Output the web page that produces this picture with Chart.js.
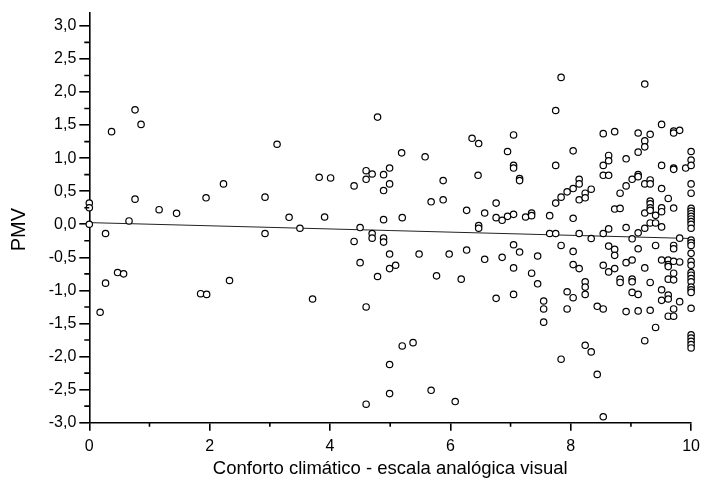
<!DOCTYPE html>
<html>
<head>
<meta charset="utf-8">
<script src="https://cdn.jsdelivr.net/npm/chart.js@4.4.1/dist/chart.umd.min.js"></script>
<style>
  html, body { margin: 0; padding: 0; background: #fff; }
  #wrap { width: 706px; height: 491px; position: relative; }
</style>
</head>
<body>
<div id="wrap"><canvas id="c" width="706" height="491"></canvas></div>
<script>
// Conforto climático (escala analógica visual, 0–10) vs PMV
const CONFORTO = [
  0, 0, 0, 0.18, 0.27, 0.27, 0.37, 0.47, 0.57, 0.66, 0.76, 0.76, 0.86,
  1.16, 1.45, 1.85, 1.95, 1.94, 2.23, 2.33, 2.92, 2.92, 3.12, 3.32, 3.50,
  3.71, 3.82, 3.91, 4.01, 4.40, 4.40, 4.50, 4.50, 4.60, 4.60, 4.60, 4.60,
  4.70, 4.70, 4.70, 4.79, 4.79, 4.89, 4.89, 4.89, 4.89, 4.89,
  4.99, 4.99, 4.99, 4.99, 4.99, 4.99, 5.09, 5.19, 5.20, 5.20, 5.38, 5.48,
  5.58, 5.68, 5.68, 5.77, 5.88, 5.88, 5.98, 6.08, 6.18, 6.27, 6.27, 6.36,
  6.46, 6.47, 6.47, 6.47, 6.57, 6.57, 6.76, 6.76, 6.76, 6.86, 6.86, 6.95, 6.95,
  7.05, 7.05, 7.05, 7.05, 7.05, 7.05, 7.05,
  7.15, 7.15, 7.15,
  7.25, 7.35, 7.35, 7.35,
  7.45, 7.45,
  7.55, 7.55, 7.55,
  7.65, 7.65,
  7.75, 7.75, 7.75, 7.75,
  7.84, 7.84, 7.84, 7.84,
  7.94, 7.94, 7.94,
  8.04, 8.04, 8.04, 8.04, 8.04, 8.04,
  8.14, 8.14, 8.14, 8.14, 8.14,
  8.24, 8.24, 8.24, 8.24, 8.24, 8.24,
  8.34, 8.34, 8.34,
  8.44, 8.44,
  8.54, 8.54, 8.54, 8.54, 8.54, 8.54, 8.54,
  8.63, 8.63, 8.63, 8.63, 8.63, 8.63,
  8.73, 8.73, 8.73, 8.73, 8.73,
  8.82, 8.82, 8.82, 8.82,
  8.92, 8.92, 8.92, 8.92, 8.92,
  9.02, 9.02, 9.02, 9.02, 9.02, 9.02,
  9.12, 9.12, 9.12, 9.12, 9.12, 9.12, 9.12, 9.12,
  9.23, 9.23, 9.23, 9.23, 9.23, 9.23, 9.23, 9.23,
  9.32, 9.32, 9.32, 9.32, 9.32, 9.32, 9.32, 9.32, 9.32, 9.32,
  9.41, 9.41, 9.41, 9.41,
  9.51, 9.51, 9.51, 9.51, 9.51, 9.51, 9.51, 9.51, 9.51,
  9.62, 9.62, 9.62, 9.62, 9.62, 9.62, 9.62, 9.62,
  9.71, 9.71, 9.71, 9.71, 9.71, 9.71, 9.71, 9.71, 9.71, 9.71, 9.71, 9.71,
  9.81, 9.81, 9.81, 9.81,
  9.91,
  10, 10, 10, 10, 10, 10, 10, 10, 10, 10, 10, 10, 10, 10, 10, 10,
  10, 10, 10, 10, 10, 10, 10, 10, 10, 10, 10, 10, 10, 10, 10, 10
];

const PMV = [
  0.32, 0.25, 0.00, -1.33, -0.14, -0.89, 1.40, -0.73, -0.75, 0.05, 1.73, 0.38, 1.51,
  0.22, 0.165, -1.05, -1.06, 0.40, 0.61, -0.85, 0.41, -0.14, 1.21, 0.105, -0.06,
  -1.13, 0.71, 0.11, 0.70, 0.58, -0.26, -0.05, -0.58, 0.81, 0.68, -1.25, -2.72,
  0.76, -0.14, -0.21, 1.62, -0.79, 0.75, 0.51, 0.07, -0.21, -0.27,
  0.85, 0.61, -0.45, -0.67, -2.12, -2.56, -0.62, 1.08, 0.10, -1.84, -1.79, -0.45,
  1.02, 0.34, -2.51, -0.78, 0.66, 0.37, -0.45, -2.68, -0.83, 0.21, -0.39, 1.30,
  0.74, 1.22, -0.02, -0.06, 0.17, -0.53, 0.32, 0.10, -1.12, 0.06, -0.50, 1.10, 0.12,
  1.35, 0.89, 0.85, 0.15, -0.31, -0.66, -1.06,
  0.69, 0.66, -0.42,
  0.11, 0.17, 0.13, -0.74,
  -0.48, -0.90,
  -1.16, -1.28, -1.48,
  0.13, -0.14,
  1.72, 0.89, 0.32, -0.14,
  2.22, 0.41, -0.32, -2.04,
  0.49, -1.02, -1.28,
  1.11, 0.54, 0.09, -0.41, -0.61, -1.11,
  0.68, 0.61, 0.37, -0.14, -0.67,
  0.47, 0.40, -0.87, -0.95, -1.06, -1.83,
  0.53, -0.215, -1.93,
  -1.24, -2.27,
  1.37, 0.89, 0.74, -0.14, -0.62, -1.28, -2.91,
  1.04, 0.96, 0.74, -0.07, -0.33, -0.72,
  1.40, 0.23, -0.38, -0.47, -0.67,
  0.47, 0.24, -0.83, -0.88,
  0.99, 0.58, -0.05, -0.58, -1.32,
  0.68, -0.22, -0.54, -0.83, -0.87, -1.03,
  1.38, 1.09, 0.75, 0.72, -0.13, -0.37, -1.06, -1.31,
  2.12, 1.26, 1.17, 0.61, 0.17, -0.06, -0.66, -1.76,
  1.36, 0.67, 0.61, 0.35, 0.31, 0.25, 0.21, 0.02, -0.88, -1.30,
  0.135, 0.02, -0.32, -1.56,
  1.51, 0.89, 0.54, 0.25, 0.19, -0.04, -0.54, -0.99, -1.15,
  0.39, -0.54, -0.61, -0.64, -0.83, -1.07, -1.13, -1.39,
  1.41, 1.38, 0.85, 0.83, 0.245, -0.32, -0.37, -0.56, -0.74, -0.84, -1.28, -1.39,
  1.42, -0.21, -0.57, -1.17,
  0.85,
  1.10, 0.97, 0.89, 0.61, 0.47, 0.24, 0.20, 0.16, 0.12, 0.08, 0.04, 0.00, -0.06, -0.24, -0.28, -0.32,
  -0.44, -0.56, -0.62, -0.73, -0.77, -0.82, -0.87, -0.95, -0.99, -1.03, -1.27, -1.67, -1.72, -1.77, -1.82, -1.87
];

// Fitted trend line, value at each end of the scale
const TREND_X = [0, 10];
const TREND_Y = [0.025, -0.215];

// Axis ranges and tick steps
const X_RANGE = [0, 10];
const Y_RANGE = [-3, 3.2];
const X_STEP = 2;
const Y_STEP = 0.5;
const Y_LABEL_TOP = 3;

const X_TITLE = 'Conforto climático - escala analógica visual';
const Y_TITLE = 'PMV';

const points = CONFORTO.map((x, i) => ({ x: x, y: PMV[i] }));
const trend = TREND_X.map((x, i) => ({ x: x, y: TREND_Y[i] }));

const FONT = "'Liberation Sans', Arial, sans-serif";

// Short minor ticks halfway between the labelled ones
const minorTicks = {
  id: 'minorTicks',
  afterDraw(chart) {
    const ctx = chart.ctx;
    const xs = chart.scales.x, ys = chart.scales.y;
    ctx.save();
    ctx.strokeStyle = '#000';
    ctx.lineWidth = 1.6;
    ctx.beginPath();
    for (let v = X_RANGE[0] + X_STEP / 2; v < X_RANGE[1]; v += X_STEP) {
      const px = xs.getPixelForValue(v);
      ctx.moveTo(px, xs.top);
      ctx.lineTo(px, xs.top + 4);
    }
    for (let v = Y_RANGE[0] + Y_STEP / 2; v < Y_LABEL_TOP; v += Y_STEP) {
      const py = ys.getPixelForValue(v);
      ctx.moveTo(ys.right, py);
      ctx.lineTo(ys.right - 5, py);
    }
    ctx.stroke();
    ctx.restore();
  }
};

// Vertical axis title, set a little below the middle of the axis
const yTitle = {
  id: 'yTitle',
  afterDraw(chart) {
    const ctx = chart.ctx;
    const ys = chart.scales.y;
    const cy = (ys.top + ys.bottom) / 2 + 12;
    ctx.save();
    ctx.translate(19, cy);
    ctx.rotate(-Math.PI / 2);
    ctx.font = '20px ' + FONT;
    ctx.fillStyle = '#000';
    ctx.textAlign = 'center';
    ctx.textBaseline = 'middle';
    ctx.fillText(Y_TITLE, 0, 0);
    ctx.restore();
  }
};

new Chart(document.getElementById('c'), {
  type: 'scatter',
  data: {
    datasets: [
      {
        type: 'line',
        data: trend,
        borderColor: '#222',
        borderWidth: 1,
        pointRadius: 0,
        fill: false,
        clip: false,
        order: 2
      },
      {
        data: points,
        pointRadius: 3.2,
        pointHoverRadius: 3.2,
        borderWidth: 1.2,
        borderColor: '#000',
        backgroundColor: '#fff',
        clip: false,
        order: 1
      }
    ]
  },
  options: {
    responsive: false,
    animation: false,
    events: [],
    layout: { padding: { top: 4.8, right: 13.7, left: 0, bottom: 0 } },
    plugins: { legend: { display: false }, tooltip: { enabled: false } },
    scales: {
      x: {
        type: 'linear',
        min: X_RANGE[0],
        max: X_RANGE[1],
        afterFit(s) { s.height = 68.3; },
        border: { display: true, color: '#000', width: 1.6 },
        grid: { display: true, drawOnChartArea: false, drawTicks: true, tickLength: 8, color: '#000', lineWidth: 1.6 },
        ticks: {
          stepSize: X_STEP,
          padding: 6,
          color: '#000',
          font: { family: FONT, size: 16 },
          maxRotation: 0,
          includeBounds: false
        },
        title: {
          display: true,
          text: X_TITLE,
          color: '#000',
          font: { family: FONT, size: 18.5 },
          padding: { top: 0, bottom: 11 }
        }
      },
      y: {
        type: 'linear',
        min: Y_RANGE[0],
        max: Y_RANGE[1],
        afterFit(s) { s.width = 89.3; },
        afterBuildTicks(s) { s.ticks = s.ticks.filter(t => t.value <= Y_LABEL_TOP + 1e-9); },
        border: { display: true, color: '#000', width: 1.6 },
        grid: { display: true, drawOnChartArea: false, drawTicks: true, tickLength: 10, color: '#000', lineWidth: 1.6 },
        ticks: {
          stepSize: Y_STEP,
          padding: 3,
          color: '#000',
          includeBounds: false,
          font: { family: FONT, size: 16 },
          callback: (v) => v.toFixed(1).replace('.', ',')
        }
      }
    }
  },
  plugins: [minorTicks, yTitle]
});
</script>
</body>
</html>
